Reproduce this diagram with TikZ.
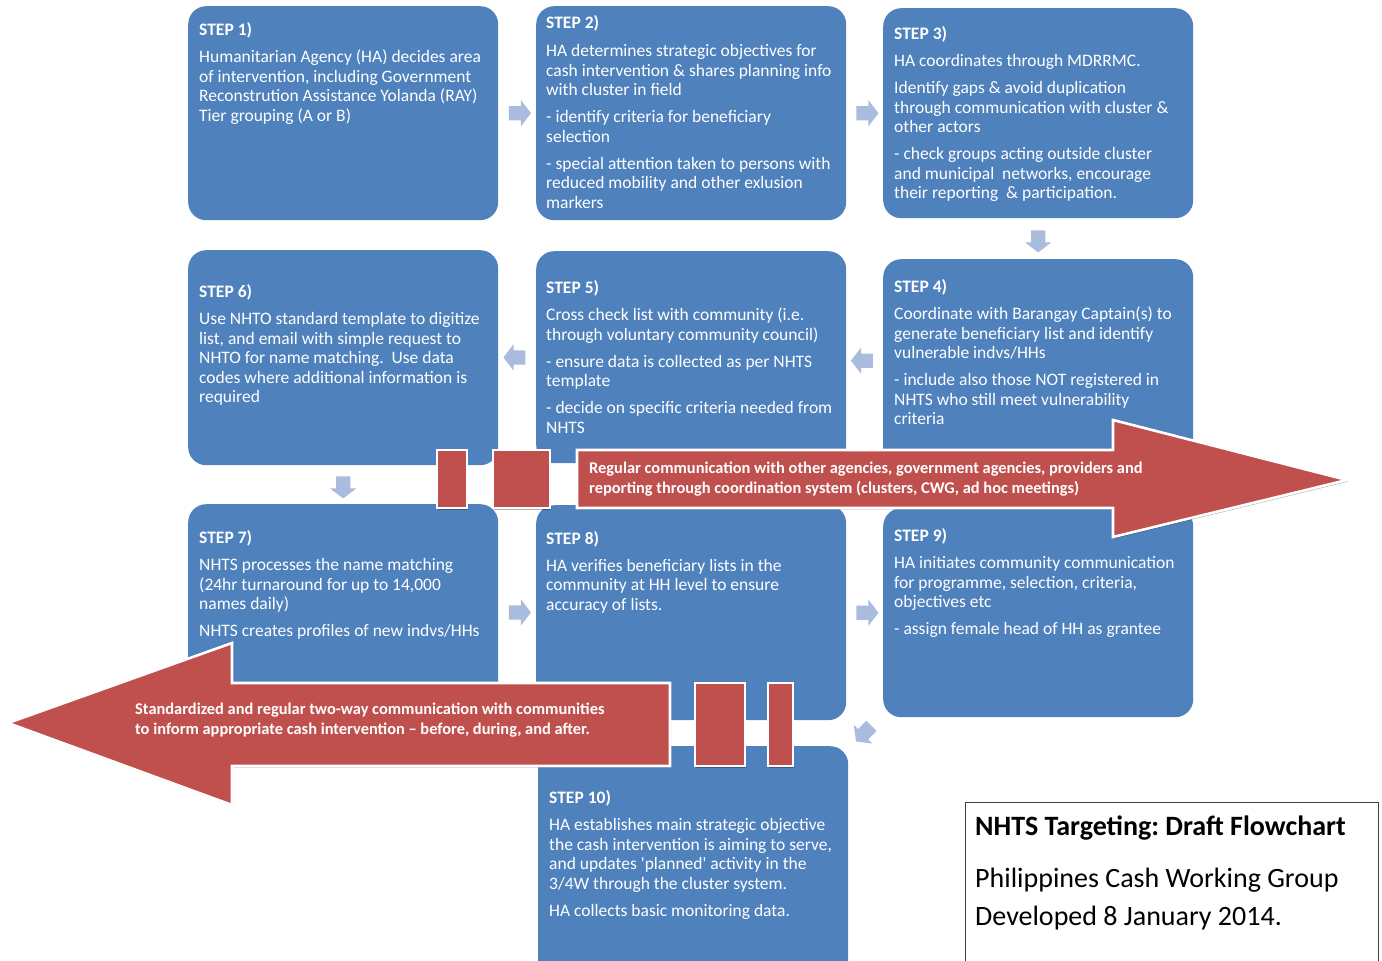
\documentclass[tikz,border=0pt]{standalone}
\usepackage{fontspec}
\setmainfont{Carlito}
\usetikzlibrary{shapes.arrows,shadows,calc}
\definecolor{stepblue}{HTML}{4F81BD}
\definecolor{commred}{HTML}{C0504D}
\definecolor{flowarrow}{HTML}{A9BCDD}
\begin{document}
\frenchspacing
\begin{tikzpicture}[x=1pt,y=-1pt,
  stepbox/.style={fill=stepblue, rounded corners=18pt, draw=none, inner sep=0pt, anchor=north west, minimum width=310pt},
  steptext/.style={text=white, align=left, anchor=north west, inner sep=0pt, font=\fontsize{17.5}{19.5}\selectfont},
  flow/.style={shape=single arrow, fill=flowarrow, draw=none, minimum height=22pt,
    single arrow head extend=6pt, single arrow tip angle=105, inner sep=0pt},
  commshape/.style={fill=commred, draw=white, line width=2.6pt, line join=miter,
    drop shadow={shadow xshift=1.2pt, shadow yshift=-1.6pt, fill=black, opacity=0.3}},
  commtext/.style={text=white, align=left, anchor=west, inner sep=0pt, font=\fontsize{16.4}{20}\selectfont\bfseries},
]
\clip (0,0) rectangle (1382,961);

% step boxes
\node[stepbox, minimum height=214pt] (s1) at (188,6) {};
\node[stepbox, minimum height=214pt] (s2) at (536,6) {};
\node[stepbox, minimum height=210pt] (s3) at (883,8) {};
\node[stepbox, minimum height=210pt] (s4) at (883,259) {};
\node[stepbox, minimum height=212pt] (s5) at (536,251) {};
\node[stepbox, minimum height=215pt] (s6) at (188,250) {};
\node[stepbox, minimum height=216pt] (s7) at (188,504) {};
\node[stepbox, minimum height=215pt] (s8) at (536,505) {};
\node[stepbox, minimum height=209pt] (s9) at (883,508) {};
\node[stepbox, minimum height=240pt] (s10) at (538,746) {};

% step texts
\node[steptext] (t1) at ($(s1.north west)+(11,16.5)$) {\textbf{STEP 1)}\\[7.5pt]
Humanitarian Agency (HA) decides area\\of intervention, including Government\\Reconstrution Assistance Yolanda (RAY)\\Tier grouping (A or B)};
\node[steptext] (t2) at ($(s2.north west)+(10,9.5)$) {\textbf{STEP 2)}\\[8.5pt]
HA determines strategic objectives for\\cash intervention \& shares planning info\\with cluster in field\\[7.5pt]
- identify criteria for beneficiary\\selection\\[7.5pt]
- special attention taken to persons with\\reduced mobility and other exlusion\\markers};
\node[steptext] (t3) at ($(s3.north west)+(11,18.5)$) {\textbf{STEP 3)}\\[7.5pt]
HA coordinates through MDRRMC.\\[7.5pt]
Identify gaps \& avoid duplication\\through communication with cluster \&\\other actors\\[7.5pt]
- check groups acting outside cluster\\and municipal\ \ networks, encourage\\their reporting\ \ \& participation.};
\node[steptext] (t4) at ($(s4.north west)+(11,20.5)$) {\textbf{STEP 4)}\\[7.5pt]
Coordinate with Barangay Captain(s) to\\generate beneficiary list and identify\\vulnerable indvs/HHs\\[7.5pt]
- include also those NOT registered in\\NHTS who still meet vulnerability\\criteria};
\node[steptext] (t5) at ($(s5.north west)+(10,29.5)$) {\textbf{STEP 5)}\\[7.5pt]
Cross check list with community (i.e.\\through voluntary community council)\\[7.5pt]
- ensure data is collected as per NHTS\\template\\[7.5pt]
- decide on specific criteria needed from\\NHTS};
\node[steptext] (t6) at ($(s6.north west)+(11,34.5)$) {\textbf{STEP 6)}\\[7.5pt]
Use NHTO standard template to digitize\\list, and email with simple request to\\NHTO for name matching.\ \ Use data\\codes where additional information is\\required};
\node[steptext] (t7) at ($(s7.north west)+(11,26.5)$) {\textbf{STEP 7)}\\[7.5pt]
NHTS processes the name matching\\(24hr turnaround for up to 14,000\\names daily)\\[7.5pt]
NHTS creates profiles of new indvs/HHs};
\node[steptext] (t8) at ($(s8.north west)+(10,26.5)$) {\textbf{STEP 8)}\\[7pt]
HA verifies beneficiary lists in the\\community at HH level to ensure\\accuracy of lists.};
\node[steptext] (t9) at ($(s9.north west)+(11,20.5)$) {\textbf{STEP 9)}\\[7.5pt]
HA initiates community communication\\for programme, selection, criteria,\\objectives etc\\[7.5pt]
- assign female head of HH as grantee};
\node[steptext] (t10) at ($(s10.north west)+(11,44.5)$) {\textbf{STEP 10)}\\[7.5pt]
HA establishes main strategic objective\\the cash intervention is aiming to serve,\\and updates \textquotesingle planned\textquotesingle\ activity in the\\3/4W through the cluster system.\\[7.5pt]
HA collects basic monitoring data.};

% flow arrows between steps (the rule sets the shaft thickness)
\node[flow] (f12) at ($(s1.east)!0.5!(s2.west)$) {\rule{0pt}{14pt}};
\node[flow] (f23) at ($(s2.east)!0.5!(s3.west)$) {\rule{0pt}{14pt}};
\node[flow, rotate=-90] (f34) at ($(s3.south)!0.5!(s4.north)$) {\rule{0pt}{14pt}};
\node[flow, rotate=180] (f45) at ($(s4.west)!0.5!(s5.east)$) {\rule{0pt}{14pt}};
\node[flow, rotate=180] (f56) at ($(s5.west)!0.5!(s6.east)$) {\rule{0pt}{14pt}};
\node[flow, rotate=-90] (f67) at ($(s6.south)!0.5!(s7.north)$) {\rule{0pt}{14pt}};
\node[flow] (f78) at ($(s7.east)!0.5!(s8.west)$) {\rule{0pt}{14pt}};
\node[flow] (f89) at ($(s8.east)!0.5!(s9.west)$) {\rule{0pt}{14pt}};
\node[flow, rotate=-135] (f910) at ($(s9.south west)!0.5!(s10.north east)$) {\rule{0pt}{14pt}};

% coordination arrow (pointing right)
\draw[commshape] (437,450) rectangle (467,508);
\draw[commshape] (493,450) rectangle (550,508);
\draw[commshape] (577,450) -- (1113,450) -- (1113,420) -- (1347,480) -- (1113,537) -- (1113,508) -- (577,508) -- cycle;
\node[commtext] (c1) at (589,479) {Regular communication with other agencies, government agencies, providers and\\reporting through coordination system (clusters, CWG, ad hoc meetings)};

% community communication arrow (pointing left)
\draw[commshape] (768,683) rectangle (793,766);
\draw[commshape] (695,683) rectangle (745,766);
\draw[commshape] (670,683) -- (232,683) -- (232,643) -- (8,723) -- (232,805) -- (232,766) -- (670,766) -- cycle;
\node[commtext] (c2) at (135,720) {Standardized and regular two-way communication with communities\\to inform appropriate cash intervention -- before, during, and after.};

% title block
\node[draw=black!75, line width=1.3pt, fill=white, anchor=north west, minimum width=413pt, minimum height=190pt, inner sep=0pt] (titlebox) at (965,802) {};
\node[anchor=north west, align=left, inner sep=0pt, font=\fontsize{28}{38}\selectfont] (title) at ($(titlebox.north west)+(10,14)$)
  {\textbf{NHTS Targeting: Draft Flowchart}\\[14pt]Philippines Cash Working Group\\Developed 8 January 2014.};
\end{tikzpicture}
\end{document}
